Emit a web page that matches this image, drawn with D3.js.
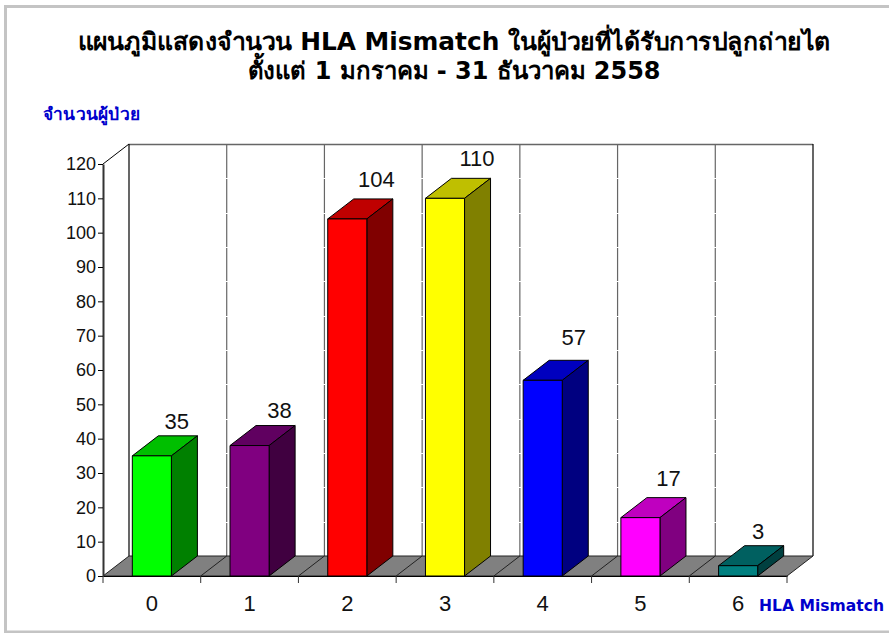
<!DOCTYPE html>
<html>
<head>
<meta charset="utf-8">
<script src="https://cdn.jsdelivr.net/npm/d3@7"></script>
<style>
  html, body { margin: 0; padding: 0; background: #fff; overflow: hidden; }
  svg { display: block; }
  text { font-family: "Liberation Sans", Arial, sans-serif; }
  .head { font-family: "DejaVu Sans", Tahoma, sans-serif; font-weight: bold; }
</style>
</head>
<body>
<div id="chart"></div>
<script>
// values
var categories = ["0", "1", "2", "3", "4", "5", "6"];
var patients = [35, 38, 104, 110, 57, 17, 3];
var barColors = ["#00ff00", "#800080", "#ff0000", "#ffff00", "#0000ff", "#ff00ff", "#008080"];
var yTicks = d3.range(0, 121, 10);
var titleLines = ["แผนภูมิแสดงจำนวน HLA Mismatch ในผู้ป่วยที่ได้รับการปลูกถ่ายไต", "ตั้งแต่ 1 มกราคม - 31 ธันวาคม 2558"];
var yTitle = "จำนวนผู้ป่วย";
var xTitle = "HLA Mismatch";

var width = 889, height = 633;
var depthX = 26, depthY = 20;   // 3d offset of the back wall

// the value labels are not placed evenly in the original
var labelNudgeX = [-2, 3, 2, 5, 4, 1, -7];
var labelNudgeY = [0, -1, -5, -5, -8, -5, 0];
var titleWidths = [753, 413];

var svg = d3.select("#chart").append("svg")
  .attr("width", width)
  .attr("height", height);

// frame of the original screenshot
svg.append("path")
  .attr("d", "M889,6.5H5.5V632H889")
  .attr("fill", "none")
  .attr("stroke", "#c4c4c4")
  .attr("stroke-width", 3);

var x = d3.scaleBand().domain(categories).range([103, 787]);
var y = d3.scaleLinear().domain([0, 120]).range([576, 164]);
var barW = x.bandwidth() * 0.4;

function shade(c, k) {
  var r = d3.rgb(c);
  return d3.rgb(r.r * k, r.g * k, r.b * k).formatHex();
}

//back wall ****************************************************
var wallTop = y(120) - depthY, wallBottom = y(0) - depthY;
var wallLeft = x.range()[0] + depthX, wallRight = x.range()[1] + depthX;

svg.append("line")
  .attr("x1", wallLeft).attr("x2", wallRight)
  .attr("y1", wallTop + 0.5).attr("y2", wallTop + 0.5)
  .attr("stroke", "#666").attr("stroke-width", 1.5);

svg.selectAll(".wall")
  .data(categories.concat(["end"]))
  .enter().append("line")
  .attr("class", "wall")
  .attr("x1", function(d) { return d === "end" ? wallRight : x(d) + depthX; })
  .attr("x2", function(d) { return d === "end" ? wallRight : x(d) + depthX; })
  .attr("y1", wallTop).attr("y2", wallBottom)
  .attr("stroke", function(d, i) { return i === 0 || d === "end" ? "#000" : "#666"; })
  .attr("stroke-width", 1.2);

// white gridlines only show where they cross the wall lines
svg.selectAll(".grid")
  .data(yTicks.slice(1, -1))
  .enter().append("line")
  .attr("class", "grid")
  .attr("x1", wallLeft + 1).attr("x2", wallRight - 1)
  .attr("y1", function(d) { return Math.round(y(d) - depthY) + 0.5; })
  .attr("y2", function(d) { return Math.round(y(d) - depthY) + 0.5; })
  .attr("stroke", "#fff");

//floor ********************************************************
svg.append("polygon")
  .attr("points", [
    [x.range()[0], y(0)], [wallLeft, wallBottom], [wallRight, wallBottom], [x.range()[1], y(0)]
  ].join(" "))
  .attr("fill", "#808080")
  .attr("stroke", "#222")
  .attr("stroke-width", 1);

svg.selectAll(".floorLine")
  .data(categories.slice(1))
  .enter().append("line")
  .attr("class", "floorLine")
  .attr("x1", function(d) { return x(d); })
  .attr("x2", function(d) { return x(d) + depthX; })
  .attr("y1", y(0)).attr("y2", wallBottom)
  .attr("stroke", "#222");

//axes *********************************************************
var yAxis = svg.append("g")
  .attr("transform", "translate(103,0)")
  .call(d3.axisLeft(y).tickValues(yTicks).tickSizeInner(5).tickSizeOuter(0).tickPadding(2));
yAxis.select(".domain").attr("stroke", "#333").attr("stroke-width", 2);
yAxis.selectAll("text").attr("font-size", 18).attr("fill", "#111").attr("font-family", "Liberation Sans");

svg.append("line")
  .attr("x1", 103).attr("y1", y(120))
  .attr("x2", wallLeft).attr("y2", wallTop)
  .attr("stroke", "#000");

var xAxis = svg.append("g")
  .attr("transform", "translate(0," + y(0) + ")")
  .call(d3.axisBottom(x).tickSize(0).tickPadding(19));
xAxis.select(".domain").attr("stroke", "#000");
xAxis.selectAll("text").attr("font-size", 22).attr("fill", "#111").attr("font-family", "Liberation Sans");

svg.selectAll(".xTick")
  .data(categories.concat(["end"]))
  .enter().append("line")
  .attr("class", "xTick")
  .attr("x1", function(d) { return d === "end" ? x.range()[1] : x(d); })
  .attr("x2", function(d) { return d === "end" ? x.range()[1] : x(d); })
  .attr("y1", y(0)).attr("y2", y(0) + 7)
  .attr("stroke", "#333");

//bars *********************************************************
var bars = svg.selectAll(".bar")
  .data(patients)
  .enter().append("g")
  .attr("class", "bar")
  .attr("stroke", "#000")
  .attr("stroke-width", 1)
  .attr("stroke-linejoin", "round");

function barLeft(i) { return x(categories[i]) + (x.bandwidth() - barW) / 2; }

// top
bars.append("polygon")
  .attr("points", function(d, i) {
    var l = barLeft(i), t = y(d);
    return [[l, t], [l + depthX, t - depthY], [l + barW + depthX, t - depthY], [l + barW, t]].join(" ");
  })
  .attr("fill", function(d, i) { return shade(barColors[i], 0.75); });

// side
bars.append("polygon")
  .attr("points", function(d, i) {
    var r = barLeft(i) + barW, t = y(d);
    return [[r, t], [r + depthX, t - depthY], [r + depthX, y(0) - depthY], [r, y(0)]].join(" ");
  })
  .attr("fill", function(d, i) { return shade(barColors[i], 0.5); });

// front
bars.append("rect")
  .attr("x", function(d, i) { return barLeft(i); })
  .attr("y", function(d) { return y(d); })
  .attr("width", barW)
  .attr("height", function(d) { return y(0) - y(d); })
  .attr("fill", function(d, i) { return barColors[i]; });

// value labels
svg.selectAll(".value")
  .data(patients)
  .enter().append("text")
  .attr("class", "value")
  .attr("x", function(d, i) { return barLeft(i) + barW / 2 + depthX + 1 + labelNudgeX[i]; })
  .attr("y", function(d, i) { return y(d) - depthY - 7 + labelNudgeY[i]; })
  .attr("text-anchor", "middle")
  .attr("font-size", 22)
  .attr("fill", "#111")
  .text(function(d) { return d; });

//titles *******************************************************
svg.selectAll(".title")
  .data(titleLines)
  .enter().append("text")
  .attr("class", "title head")
  .attr("x", 454)
  .attr("y", function(d, i) { return 50 + i * 29; })
  .attr("text-anchor", "middle")
  .attr("font-size", 24)
  .attr("textLength", function(d, i) { return titleWidths[i]; })
  .attr("lengthAdjust", "spacingAndGlyphs")
  .attr("fill", "#000")
  .text(function(d) { return d; });

svg.append("text")
  .attr("class", "head")
  .attr("x", 43).attr("y", 120)
  .attr("font-size", 17)
  .attr("textLength", 97)
  .attr("lengthAdjust", "spacingAndGlyphs")
  .attr("fill", "#0000cc")
  .text(yTitle);

svg.append("text")
  .attr("class", "head")
  .attr("x", 884).attr("y", 611)
  .attr("text-anchor", "end")
  .attr("font-size", 16)
  .attr("textLength", 125)
  .attr("lengthAdjust", "spacingAndGlyphs")
  .attr("fill", "#0000cc")
  .text(xTitle);
</script>
</body>
</html>
